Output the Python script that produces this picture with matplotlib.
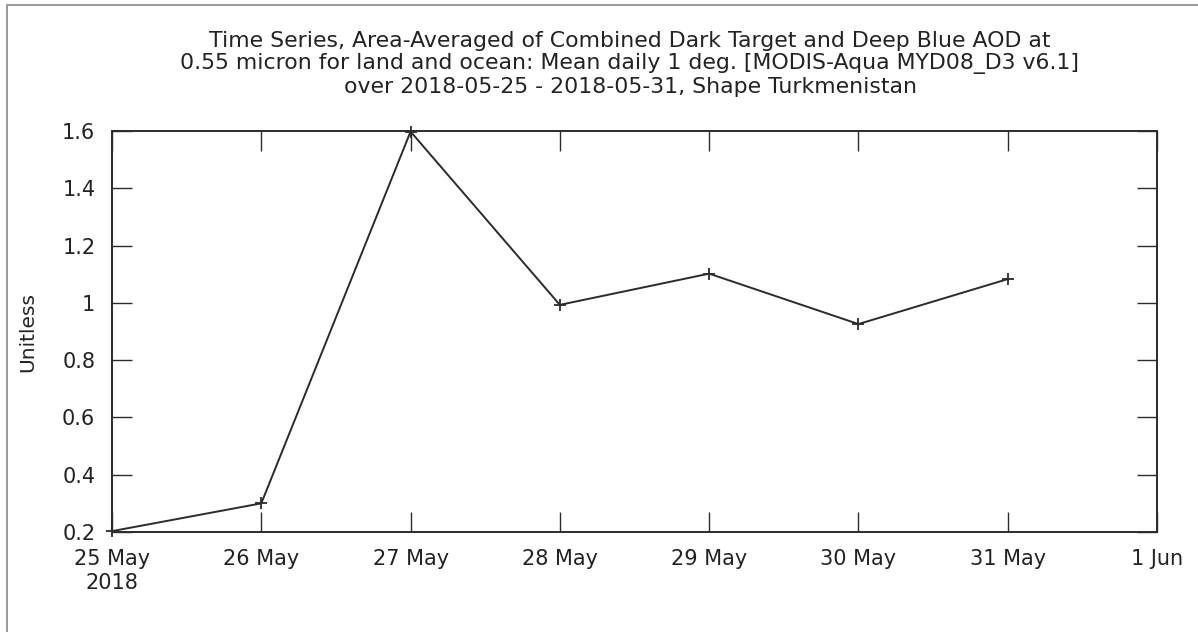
import datetime as dt
import matplotlib
matplotlib.use('Agg')
import matplotlib.pyplot as plt
from matplotlib.patches import Rectangle

days = [dt.datetime(2018, 5, d) for d in range(25, 32)]
aod = [0.203, 0.30, 1.598, 0.993, 1.102, 0.926, 1.083]

tick_days = [dt.datetime(2018, 5, d) for d in range(25, 32)] + [dt.datetime(2018, 6, 1)]
tick_labels = ['25 May\n2018', '26 May', '27 May', '28 May', '29 May', '30 May', '31 May', '1 Jun']

title = ('Time Series, Area-Averaged of Combined Dark Target and Deep Blue AOD at\n'
         '0.55 micron for land and ocean: Mean daily 1 deg. [MODIS-Aqua MYD08_D3 v6.1]\n'
         'over 2018-05-25 - 2018-05-31, Shape Turkmenistan')

plt.rcParams['font.family'] = 'DejaVu Sans'
ink = '#2b2b2b'

fig = plt.figure(figsize=(11.98, 6.32), dpi=100)
ax = fig.add_axes([112 / 1198, 1 - 532 / 632, (1157 - 112) / 1198, (532 - 131) / 632])

ax.plot(days, aod, color=ink, linewidth=1.4, marker='+', markersize=9, markeredgewidth=1.3,
        clip_on=False)

ax.set_xlim(dt.datetime(2018, 5, 25), dt.datetime(2018, 6, 1))
ax.set_ylim(0.2, 1.6)
ax.set_xticks(tick_days)
ax.set_xticklabels(tick_labels, linespacing=1.3)
ax.set_yticks([0.2, 0.4, 0.6, 0.8, 1.0, 1.2, 1.4, 1.6])
ax.set_yticklabels(['0.2', '0.4', '0.6', '0.8', '1', '1.2', '1.4', '1.6'])

ax.tick_params(direction='in', length=14.4, width=1.0, color=ink, labelcolor='#222222',
               labelsize=15, top=True, right=True)
ax.tick_params(axis='x', pad=12)
ax.tick_params(axis='y', pad=12)
for s in ax.spines.values():
    s.set_color(ink)
    s.set_linewidth(1.4)

ax.set_ylabel('Unitless', fontsize=14.5, color='#222222', labelpad=18)
fig.text(630 / 1198, 1 - 64 / 632, title, ha='center', va='center', fontsize=15.8,
         color='#222222', linespacing=1.17)

# frame round the picture
fig.patches.append(Rectangle((7 / 1198, -0.1), 1.2, 1 - 5 / 632 + 0.1, transform=fig.transFigure,
                             fill=False, edgecolor='#888888', linewidth=1.2))

fig.savefig('out.png', dpi=100)
